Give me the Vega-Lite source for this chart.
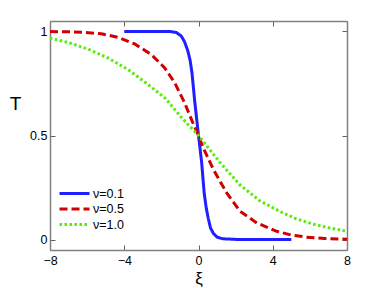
{
  "$schema": "https://vega.github.io/schema/vega-lite/v6.json",
  "width": 297,
  "height": 229,
  "autosize": {"type": "none"},
  "padding": {"left": 50, "top": 21, "right": 36, "bottom": 38},
  "background": "white",
  "config": {
    "view": {"stroke": null},
    "font": "Liberation Sans",
    "axis": {
      "domainColor": "#808080",
      "domainWidth": 1.5,
      "ticks": true,
      "tickColor": "#606060",
      "tickWidth": 1,
      "tickSize": -5,
      "grid": false,
      "labelFlush": false,
      "labelFont": "Liberation Sans",
      "labelFontSize": 12.5,
      "labelColor": "#000",
      "titleColor": "#000",
      "titleFont": "Liberation Sans",
      "titleFontWeight": "normal"
    },
    "legend": {
      "labelFont": "Liberation Sans",
      "labelFontSize": 12.5,
      "labelColor": "#000",
      "padding": 0
    }
  },
  "data": {
    "values": [
      {"nu": "ν=0.1", "xi": -4, "T": 1.0},
      {"nu": "ν=0.1", "xi": -2, "T": 1.0},
      {"nu": "ν=0.1", "xi": -1.5, "T": 0.999},
      {"nu": "ν=0.1", "xi": -1.2, "T": 0.995},
      {"nu": "ν=0.1", "xi": -0.93, "T": 0.978},
      {"nu": "ν=0.1", "xi": -0.75, "T": 0.95},
      {"nu": "ν=0.1", "xi": -0.57, "T": 0.905},
      {"nu": "ν=0.1", "xi": -0.45, "T": 0.86},
      {"nu": "ν=0.1", "xi": -0.35, "T": 0.8},
      {"nu": "ν=0.1", "xi": -0.21, "T": 0.67},
      {"nu": "ν=0.1", "xi": -0.1, "T": 0.58},
      {"nu": "ν=0.1", "xi": 0, "T": 0.5},
      {"nu": "ν=0.1", "xi": 0.08, "T": 0.44},
      {"nu": "ν=0.1", "xi": 0.17, "T": 0.37},
      {"nu": "ν=0.1", "xi": 0.31, "T": 0.22},
      {"nu": "ν=0.1", "xi": 0.42, "T": 0.15},
      {"nu": "ν=0.1", "xi": 0.53, "T": 0.1},
      {"nu": "ν=0.1", "xi": 0.65, "T": 0.055},
      {"nu": "ν=0.1", "xi": 0.8, "T": 0.03},
      {"nu": "ν=0.1", "xi": 1.0, "T": 0.012},
      {"nu": "ν=0.1", "xi": 1.3, "T": 0.004},
      {"nu": "ν=0.1", "xi": 2, "T": 0.001},
      {"nu": "ν=0.1", "xi": 3, "T": 0.0},
      {"nu": "ν=0.1", "xi": 5, "T": 0.0},
      {"nu": "ν=0.5", "xi": -8, "T": 0.999},
      {"nu": "ν=0.5", "xi": -7, "T": 0.998},
      {"nu": "ν=0.5", "xi": -6.3, "T": 0.996},
      {"nu": "ν=0.5", "xi": -5.24, "T": 0.989},
      {"nu": "ν=0.5", "xi": -4.34, "T": 0.972},
      {"nu": "ν=0.5", "xi": -3.44, "T": 0.94},
      {"nu": "ν=0.5", "xi": -2.54, "T": 0.889},
      {"nu": "ν=0.5", "xi": -1.82, "T": 0.825},
      {"nu": "ν=0.5", "xi": -1.28, "T": 0.753},
      {"nu": "ν=0.5", "xi": -0.75, "T": 0.657},
      {"nu": "ν=0.5", "xi": -0.3, "T": 0.56},
      {"nu": "ν=0.5", "xi": 0, "T": 0.5},
      {"nu": "ν=0.5", "xi": 0.26, "T": 0.44},
      {"nu": "ν=0.5", "xi": 0.8, "T": 0.337},
      {"nu": "ν=0.5", "xi": 1.52, "T": 0.224},
      {"nu": "ν=0.5", "xi": 2.24, "T": 0.136},
      {"nu": "ν=0.5", "xi": 3.14, "T": 0.08},
      {"nu": "ν=0.5", "xi": 4.21, "T": 0.04},
      {"nu": "ν=0.5", "xi": 5.0, "T": 0.022},
      {"nu": "ν=0.5", "xi": 5.79, "T": 0.012},
      {"nu": "ν=0.5", "xi": 6.8, "T": 0.005},
      {"nu": "ν=0.5", "xi": 8, "T": 0.002},
      {"nu": "ν=1.0", "xi": -8, "T": 0.968},
      {"nu": "ν=1.0", "xi": -7.03, "T": 0.947},
      {"nu": "ν=1.0", "xi": -5.95, "T": 0.915},
      {"nu": "ν=1.0", "xi": -4.88, "T": 0.873},
      {"nu": "ν=1.0", "xi": -3.8, "T": 0.817},
      {"nu": "ν=1.0", "xi": -2.72, "T": 0.745},
      {"nu": "ν=1.0", "xi": -1.8, "T": 0.68},
      {"nu": "ν=1.0", "xi": -0.93, "T": 0.588},
      {"nu": "ν=1.0", "xi": 0, "T": 0.5},
      {"nu": "ν=1.0", "xi": 1.16, "T": 0.37},
      {"nu": "ν=1.0", "xi": 2.24, "T": 0.262},
      {"nu": "ν=1.0", "xi": 3.31, "T": 0.186},
      {"nu": "ν=1.0", "xi": 4.39, "T": 0.135},
      {"nu": "ν=1.0", "xi": 5.25, "T": 0.1},
      {"nu": "ν=1.0", "xi": 6.15, "T": 0.075},
      {"nu": "ν=1.0", "xi": 7.05, "T": 0.056},
      {"nu": "ν=1.0", "xi": 8, "T": 0.04}
    ]
  },
  "layer": [
    {
      "mark": {"type": "line", "strokeWidth": 3},
      "encoding": {
        "x": {
          "field": "xi", "type": "quantitative",
          "scale": {"domain": [-8, 8], "nice": false, "zero": false},
          "axis": {"values": [-8, -4, 0, 4, 8], "title": "ξ", "titleFontSize": 17, "titleY": 33, "titleBaseline": "alphabetic", "labelPadding": 9}
        },
        "y": {
          "field": "T", "type": "quantitative",
          "scale": {"domain": [-0.05, 1.05], "nice": false, "zero": false},
          "axis": {"values": [0, 0.5, 1], "format": "~g", "title": "T", "titleAngle": 0, "titleFontSize": 19, "titleX": -35, "titleY": 82, "titleAlign": "center", "titleBaseline": "middle", "labelPadding": 8}
        },
        "color": {
          "field": "nu", "type": "nominal",
          "scale": {"domain": ["ν=0.1", "ν=0.5", "ν=1.0"], "range": ["#1f1fff", "#d00000", "#55ee00"]},
          "legend": {"title": null, "orient": "none", "legendX": 18, "legendY": 166, "symbolType": "M-3,0H3", "symbolSize": 100, "symbolStrokeWidth": 3, "labelOffset": 12, "rowPadding": 2.5}
        },
        "strokeDash": {
          "field": "nu", "type": "nominal",
          "scale": {"domain": ["ν=0.1", "ν=0.5", "ν=1.0"], "range": [[1, 0], [8, 4], [2.5, 2.5]]},
          "legend": {"title": null, "orient": "none", "legendX": 18, "legendY": 166, "symbolType": "M-3,0H3", "symbolSize": 100, "symbolStrokeWidth": 3, "labelOffset": 12, "rowPadding": 2.5}
        }
      }
    },
    {
      "mark": {"type": "point", "opacity": 0},
      "encoding": {
        "x": {
          "field": "xi", "type": "quantitative",
          "scale": {"domain": [-8, 8], "nice": false, "zero": false},
          "axis": {"orient": "top", "values": [-8, -4, 0, 4, 8], "labels": false, "title": null}
        },
        "y": {
          "field": "T", "type": "quantitative",
          "scale": {"domain": [-0.05, 1.05], "nice": false, "zero": false},
          "axis": {"orient": "right", "values": [0, 0.5, 1], "labels": false, "title": null}
        }
      }
    }
  ],
  "resolve": {"axis": {"x": "independent", "y": "independent"}}
}
